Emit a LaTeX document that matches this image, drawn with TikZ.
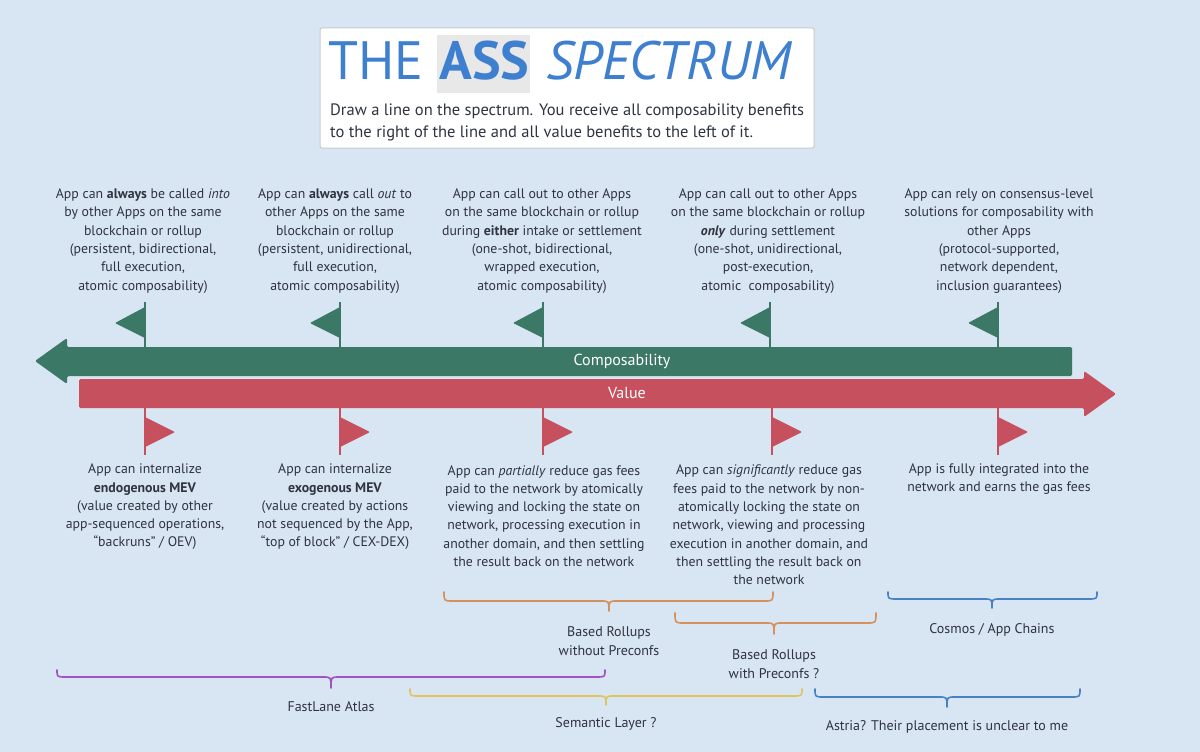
\documentclass[tikz,border=0pt]{standalone}
\usepackage{fontspec}
\setmainfont{PT Sans}
\definecolor{bg}{HTML}{D8E5F3}
\definecolor{grn}{HTML}{3C7866}
\definecolor{rd}{HTML}{C6505D}
\definecolor{txt}{HTML}{2E3440}
\definecolor{ttl}{HTML}{3E7FCF}
\definecolor{orng}{HTML}{D4915C}
\definecolor{blu}{HTML}{4A80C4}
\definecolor{purp}{HTML}{A452C2}
\definecolor{yel}{HTML}{E2C45E}
\tikzset{
  blk/.style={align=center,inner sep=0pt,text=txt,font=\fontsize{13.8}{18.3}\selectfont},
  lbl/.style={align=center,inner sep=0pt,text=txt,font=\fontsize{14}{18.3}\selectfont},
  pole/.style={line width=2.6pt},
  brc/.style={line width=1.6pt,line cap=round,line join=round}
}
\newcommand{\gflag}[1]{%
  \draw[grn,pole] (#1,302) -- (#1,350);
  \fill[grn,rounded corners=1pt] (#1,307) -- (#1,338) -- (#1-30,323) -- cycle;}
\newcommand{\rflag}[1]{%
  \draw[rd,pole] (#1,405) -- (#1,455);
  \fill[rd,rounded corners=1pt] (#1,417) -- (#1,447) -- (#1+30,432) -- cycle;}
% brace: x1, x2, xm, ytop, yline, ytip, colour
\newcommand{\mybrace}[7]{%
  \draw[#7,brc] (#1,#4) .. controls (#1,#5) .. (#1+9,#5) -- (#3-8,#5)
     .. controls (#3,#5) .. (#3,#6) .. controls (#3,#5) .. (#3+8,#5)
     -- (#2-9,#5) .. controls (#2,#5) .. (#2,#4);}
\begin{document}
\begin{tikzpicture}[x=1pt,y=-1pt]
\fill[bg] (0,0) rectangle (1200,752);
\useasboundingbox (0,0) rectangle (1200,752);
% title box
\filldraw[fill=white,draw=gray!40,line width=1pt,rounded corners=2pt] (320,28) rectangle (814,148);
\fill[gray!18] (437,35) rectangle (530,93);
\node[anchor=base west,inner sep=0pt,text=ttl,font=\fontsize{54}{60}\selectfont] (title) at (328,80) {THE\hspace{16pt}\textbf{ASS}\hspace{17pt}\textit{SPECTRUM}};
\node[anchor=base west,inner sep=0pt,text=txt,font=\fontsize{16.5}{22}\selectfont] (sub1) at (330,115) {Draw a line on the spectrum. You receive all composability benefits};
\node[anchor=base west,inner sep=0pt,text=txt,font=\fontsize{16.5}{22}\selectfont] (sub2) at (330,137) {to the right of the line and all value benefits to the left of it.};
% arrows
\fill[grn,rounded corners=1.5pt] (35,361) -- (67,338) -- (67,347) -- (1072,347) -- (1072,376) -- (67,376) -- (67,384) -- cycle;
\fill[rd,rounded corners=1.5pt] (79,379) -- (1084,379) -- (1084,371) -- (1116,394) -- (1084,417) -- (1084,408) -- (79,408) -- cycle;
\node[text=white,inner sep=0pt,font=\fontsize{16}{18}\selectfont] (comp) at (622,361) {Composability};
\node[text=white,inner sep=0pt,font=\fontsize{16}{18}\selectfont] (val) at (627,393) {Value};
% flags
\gflag{145}\gflag{340}\gflag{543}\gflag{770}\gflag{998}
\rflag{145}\rflag{340}\rflag{543}\rflag{772}\rflag{998}
% top texts
\node[blk] (t1) at (143,241) {App can \textbf{always} be called \textit{into}\\by other Apps on the same\\blockchain or rollup\\(persistent, bidirectional,\\full execution,\\atomic composability)};
\node[blk] (t2) at (335,241) {App can \textbf{always} call \textit{out} to\\other Apps on the same\\blockchain or rollup\\(persistent, unidirectional,\\full execution,\\atomic composability)};
\node[blk] (t3) at (542,241) {App can call out to other Apps\\on the same blockchain or rollup\\during \textbf{either} intake or settlement\\(one-shot, bidirectional,\\wrapped execution,\\atomic composability)};
\node[blk] (t4) at (768,241) {App can call out to other Apps\\on the same blockchain or rollup\\\textbf{\textit{only}} during settlement\\(one-shot, unidirectional,\\post-execution,\\atomic\ \ composability)};
\node[blk] (t5) at (999,241) {App can rely on consensus-level\\solutions for composability with\\other Apps\\(protocol-supported,\\network dependent,\\inclusion guarantees)};
% bottom texts
\node[blk] (b1) at (145,507) {App can internalize\\\textbf{endogenous MEV}\\(value created by other\\app-sequenced operations,\\``backruns'' / OEV)};
\node[blk] (b2) at (335,507) {App can internalize\\\textbf{exogenous MEV}\\(value created by actions\\not sequenced by the App,\\``top of block'' / CEX-DEX)};
\node[blk] (b3) at (544,516) {App can \textit{partially} reduce gas fees\\paid to the network by atomically\\viewing and locking the state on\\network, processing execution in\\another domain, and then settling\\the result back on the network};
\node[blk] (b4) at (769,525) {App can \textit{significantly} reduce gas\\fees paid to the network by non-\\atomically locking the state on\\network, viewing and processing\\execution in another domain, and\\then settling the result back on\\the network};
\node[blk] (b5) at (999,479) {App is fully integrated into the\\network and earns the gas fees};
% braces
\mybrace{444}{773}{609}{592}{601}{611}{orng}
\node[lbl] (l1) at (609,641) {Based Rollups\\without Preconfs};
\mybrace{675}{876}{774}{613}{623}{634}{orng}
\node[lbl] (l2) at (774,664) {Based Rollups\\with Preconfs ?};
\mybrace{888}{1097}{992}{592}{599}{608}{blu}
\node[lbl] (l3) at (992,630) {Cosmos / App Chains};
\mybrace{57}{605}{331}{670}{677}{688}{purp}
\node[lbl] (l4) at (331,707) {FastLane Atlas};
\mybrace{410}{802}{606}{689}{696}{705}{yel}
\node[lbl] (l5) at (606,724) {Semantic Layer ?};
\mybrace{815}{1080}{947}{689}{697}{707}{blu}
\node[lbl] (l6) at (947,727) {Astria? Their placement is unclear to me};
\end{tikzpicture}
\end{document}
